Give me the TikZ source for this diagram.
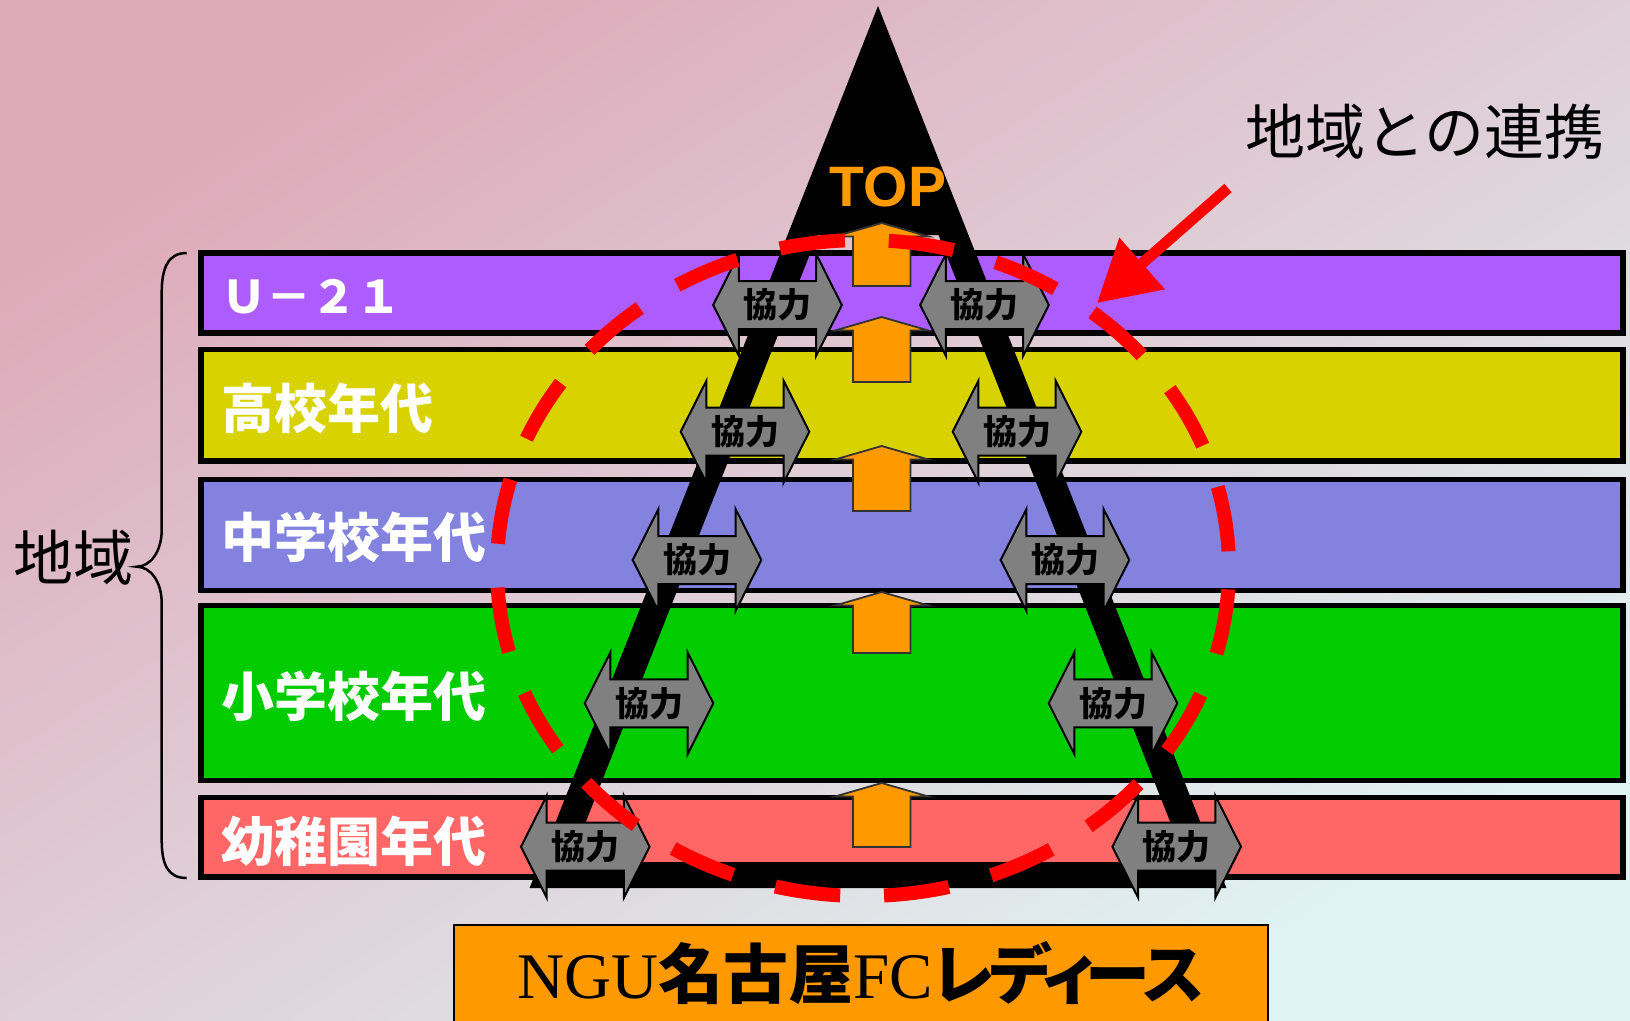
\documentclass[tikz,border=0pt]{standalone}
\usepackage{fontspec}
\usetikzlibrary{arrows.meta}
\setmainfont{Liberation Serif}
\newfontfamily\jpfont{Noto Sans CJK JP}
\newfontfamily\jpprop{Noto Sans CJK JP}[RawFeature=+palt]
\newfontfamily\toplabelfont{Liberation Sans}
\definecolor{bgpink}{RGB}{222,170,186}
\definecolor{bgmid}{RGB}{224,212,220}
\definecolor{bgcyan}{RGB}{224,243,243}
\definecolor{u21col}{RGB}{173,92,255}
\definecolor{highcol}{RGB}{216,211,0}
\definecolor{juniorcol}{RGB}{131,131,223}
\definecolor{primcol}{RGB}{0,204,0}
\definecolor{kidscol}{RGB}{255,102,102}
\definecolor{nguorange}{RGB}{255,153,0}
\definecolor{coopgray}{RGB}{128,128,128}
\tikzset{
	band/.style={draw=black, line width=5.5pt},
	bandlabel/.style={anchor=west, inner sep=0pt, text=white, font=\jpfont\bfseries\fontsize{53}{60}\selectfont},
	coopshape/.style={draw=black, line width=2pt, fill=coopgray, line join=miter},
	cooptext/.style={inner sep=0pt, font=\jpfont\bfseries\fontsize{34}{40}\selectfont},
	uparrow/.style={draw=black!80, line width=1.8pt, fill=nguorange},
	pointer/.style={red, line width=11pt, -{Triangle[length=60pt,width=66pt]}}
}
\def\coop(#1)(#2,#3){\draw[coopshape] (#2,#3) ++(-64.3,0) -- ++(25.7,-51) -- ++(0,27) -- ++(77.2,0) -- ++(0,-27) -- ++(25.7,51) -- ++(-25.7,51) -- ++(0,-27) -- ++(-77.2,0) -- ++(0,27) -- cycle;
	\node[cooptext] (#1) at (#2,#3) {協力};}

\begin{document}
\begin{tikzpicture}[x=1pt,y=-1pt]
			%%%%% START %%%%%
			\useasboundingbox (0,0) rectangle (1630,1020);
			\shade[top color=bgpink, middle color=bgmid, bottom color=bgcyan, shading angle=32] (0,0) rectangle (1630,1020);
			
			% age bands
			\draw[band, fill=u21col] (201,253) rectangle (1623,333);
			\draw[band, fill=highcol] (201,349.5) rectangle (1623,461);
			\draw[band, fill=juniorcol] (201,479.7) rectangle (1623,590.5);
			\draw[band, fill=primcol] (201,605.3) rectangle (1623,780.5);
			\draw[band, fill=kidscol] (201,797.5) rectangle (1623,877);
			
			\node[bandlabel] (u21) at (221,297) {\fontsize{45}{50}\selectfont Ｕ－２１};
			\node[bandlabel] (high) at (221,408) {高校年代};
			\node[bandlabel] (junior) at (221,537) {中学校年代};
			\node[bandlabel] (prim) at (221,696) {小学校年代};
			\node[bandlabel] (kids) at (221,841) {幼稚園年代};
			
			% brace
			\draw[line width=2.5pt] (186.7,253) .. controls (168,253) and (161.7,268) .. (161.7,293) -- (161.7,530) .. controls (161.7,552) and (150,566.7) .. (136.7,566.7) .. controls (150,566.7) and (161.7,581) .. (161.7,603) -- (161.7,840) .. controls (161.7,865) and (168,878) .. (186.7,878);
			\node[inner sep=0pt, font=\jpfont\fontsize{60}{66}\selectfont] (region) at (73,558) {地域};
			
			% pyramid
			\fill[even odd rule] (878,6) -- (1226.4,888) -- (529.6,888) -- cycle
				(817.5,235) -- (938.5,235) -- (1186,862) -- (570,862) -- cycle;
			\node[inner sep=0pt, text=nguorange, font=\toplabelfont\bfseries\fontsize{57}{60}\selectfont] (top) at (888,187) {TOP};
			
			\foreach \tip/\bot in {223/286, 317/382, 446/511, 592/653, 783/847}
				\draw[uparrow] (881.7,\tip) -- (928.4,\tip+13.5) -- (910.4,\tip+13.5) -- (910.4,\bot) -- (853,\bot) -- (853,\tip+13.5) -- (835,\tip+13.5) -- cycle;
			
			\foreach \dx/\y [count=\i] in {103.5/305, 136/431.7, 184/560, 232/703.3, 295.7/846.7}{
				\coop(coopL\i)(881-\dx,\y)
				\coop(coopR\i)(881+\dx,\y)
			}
			
			% region circle and pointer
			\draw[red, line width=14pt, dash pattern=on 65.5pt off 43.9pt, dash phase=88pt] (863,568) ellipse [x radius=366, y radius=328];
			\node[anchor=west, inner sep=0pt, font=\jpfont\fontsize{60}{66}\selectfont] (link) at (1245,132) {地域との連携};
			\coordinate (pointfrom) at (1228,188);
			\coordinate (pointto) at (1097,303);
			\draw[pointer] (pointfrom) -- (pointto);
			
			% club box
			\draw[line width=2pt, fill=nguorange] (454,925) rectangle (1268,1030);
			\node[anchor=base, inner sep=0pt, font=\fontsize{65}{70}\selectfont] (club) at (861,998) {NGU{\jpprop\bfseries 名古屋}FC{\jpprop\bfseries レ\kern-4ptデ\kern-8ptィ\kern-8ptー\kern-6ptス}};
			%%%%% END %%%%%
\end{tikzpicture}
\end{document}
